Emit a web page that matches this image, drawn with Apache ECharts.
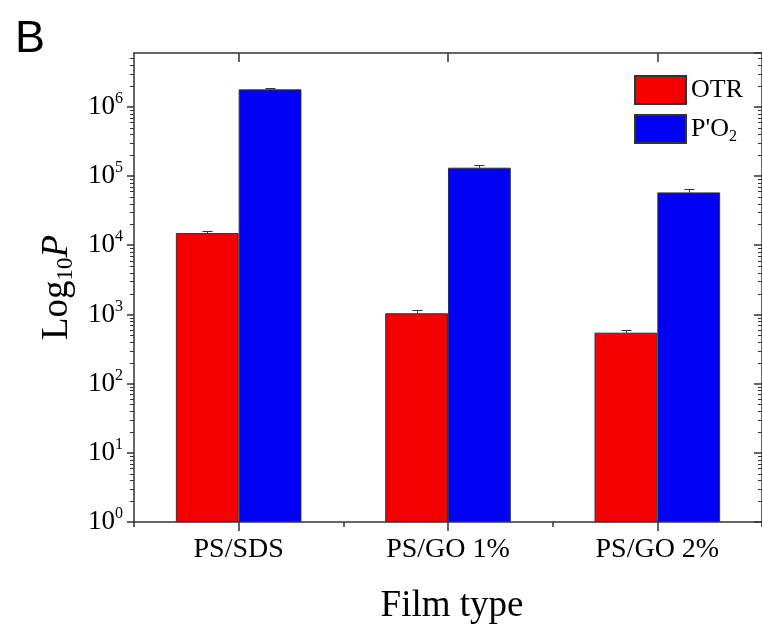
<!DOCTYPE html>
<html><head><meta charset="utf-8">
<script src="https://cdn.jsdelivr.net/npm/echarts@6/dist/echarts.min.js"></script>
<style>html,body{margin:0;padding:0;background:#fff}#c{width:762px;height:633px}</style>
</head><body><div id="c"></div>
<script>
const categories = ['PS/SDS', 'PS/GO 1%', 'PS/GO 2%'];
const seriesNames = ['OTR', "P'O2"];
const otrValues = [15000, 1040, 545];
const otrErrors = [1200, 100, 50];
const po2Values = [1790000, 132000, 58000];
const po2Errors = [100000, 12000, 6500];
const yMin = 1;
const yMax = 6000000;
const decades = [1, 10, 100, 1000, 10000, 100000, 1000000];
const minorMultipliers = [2, 3, 4, 5, 6, 7, 8, 9];

const SERIF = 'Liberation Serif';
const AXIS_COLOR = '#333';

const minorTickData = [];
decades.forEach(d => minorMultipliers.forEach(m => { if (m * d < yMax) minorTickData.push([0, m * d]); }));

function minorTickRender(params, api) {
  const cs = params.coordSys;
  const y = Math.round(api.coord([0, api.value(1)])[1]) + 0.5;
  return { type: 'group', children: [
    { type: 'line', shape: { x1: cs.x, y1: y, x2: cs.x - 4, y2: y }, style: { stroke: AXIS_COLOR, lineWidth: 1 } },
    { type: 'line', shape: { x1: cs.x + cs.width, y1: y, x2: cs.x + cs.width - 4, y2: y }, style: { stroke: AXIS_COLOR, lineWidth: 1 } }
  ]};
}

function errorRender(sign) {
  return function (params, api) {
    const ci = api.value(0), v = api.value(1), e = api.value(2);
    const base = api.coord([ci, v]);
    const top = api.coord([ci, v + e]);
    const band = params.coordSys.width / categories.length;
    const x = Math.round(base[0] + sign * band * 0.15) + 0.5;
    const ty = Math.round(top[1]) + 0.5;
    return { type: 'group', children: [
      { type: 'line', shape: { x1: x, y1: base[1], x2: x, y2: ty }, style: { stroke: '#333', lineWidth: 1 } },
      { type: 'line', shape: { x1: x - 5, y1: ty, x2: x + 5, y2: ty }, style: { stroke: '#333', lineWidth: 1 } }
    ]};
  };
}

const chart = echarts.init(document.getElementById('c'), null, { renderer: 'canvas' });
const axisLineStyle = { show: true, lineStyle: { color: AXIS_COLOR, width: 1.5 } };

chart.setOption({
  animation: false,
  backgroundColor: '#fff',
  title: { text: 'B', left: 10, top: 12, textStyle: { fontFamily: 'Liberation Sans', fontSize: 45, fontWeight: 'normal', color: '#000' } },
  legend: {
    data: seriesNames, orient: 'vertical', left: 634, top: 75, padding: 0,
    itemWidth: 51, itemHeight: 28, itemGap: 9, icon: 'rect',
    textStyle: {
      fontFamily: SERIF, fontSize: 26, color: '#000',
      rich: {
        n: { fontFamily: SERIF, fontSize: 26, color: '#000', lineHeight: 32 },
        s: { fontFamily: SERIF, fontSize: 16, color: '#000', lineHeight: 12, verticalAlign: 'bottom' }
      }
    },
    formatter: name => name === "P'O2" ? "{n|P'O}{s|2}" : '{n|' + name + '}'
  },
  grid: { left: 134, top: 53, right: -4, bottom: 111, containLabel: false },
  xAxis: [
    {
      type: 'category', position: 'bottom', data: categories,
      axisLine: axisLineStyle,
      axisTick: { show: true, alignWithLabel: true, length: 9, lineStyle: { color: AXIS_COLOR, width: 1.5 } },
      axisLabel: { fontFamily: SERIF, fontSize: 28, color: '#000', margin: 14 },
      name: 'Film type', nameLocation: 'middle', nameGap: 66,
      nameTextStyle: { fontFamily: SERIF, fontSize: 37, color: '#000', padding: [0, 0, 0, 8] }
    },
    {
      type: 'category', position: 'top', data: categories,
      axisLine: axisLineStyle,
      axisTick: { show: true, inside: true, alignWithLabel: true, length: 9, lineStyle: { color: AXIS_COLOR, width: 1.5 } },
      axisLabel: { show: false }
    },
    {
      type: 'category', position: 'bottom', data: categories,
      axisLine: { show: false },
      axisTick: { show: true, length: 5, lineStyle: { color: AXIS_COLOR, width: 1.5 } },
      axisLabel: { show: false }
    }
  ],
  yAxis: [
    {
      type: 'log', logBase: 10, min: yMin, max: yMax, interval: 1, position: 'left',
      axisLine: axisLineStyle,
      axisTick: { show: true, length: 7, lineStyle: { color: AXIS_COLOR, width: 1.5 } },
      splitLine: { show: false },
      axisLabel: {
        margin: 11, showMaxLabel: false,
        formatter: function (value) {
          const l = Math.log10(value);
          const e = Math.round(l);
          if (Math.abs(l - e) > 1e-6) return '';
          return '{b|10}{s|' + e + '}';
        },
        rich: {
          b: { fontFamily: SERIF, fontSize: 27, color: '#000', lineHeight: 32 },
          s: { fontFamily: SERIF, fontSize: 16, color: '#000', lineHeight: 14, verticalAlign: 'top' }
        }
      },
      name: '{m|Log}{sub|10}{i|P}', nameLocation: 'middle', nameRotate: 90, nameGap: 55,
      nameTextStyle: {
        rich: {
          m: { fontFamily: SERIF, fontSize: 37, color: '#000', lineHeight: 40 },
          sub: { fontFamily: SERIF, fontSize: 23, color: '#000', lineHeight: 16, verticalAlign: 'bottom' },
          i: { fontFamily: SERIF, fontSize: 37, fontStyle: 'italic', color: '#000', lineHeight: 40 }
        }
      }
    },
    {
      type: 'log', logBase: 10, min: yMin, max: yMax, interval: 1, position: 'right',
      axisLine: axisLineStyle,
      axisTick: { show: true, inside: true, length: 8, lineStyle: { color: AXIS_COLOR, width: 1.5 } },
      splitLine: { show: false },
      axisLabel: { show: false }
    }
  ],
  series: [
    {
      name: seriesNames[0], type: 'bar', data: otrValues, barGap: '0%', barCategoryGap: '40%',
      itemStyle: { color: '#f40000', borderColor: '#333', borderWidth: 1 }
    },
    {
      name: seriesNames[1], type: 'bar', data: po2Values, barGap: '0%', barCategoryGap: '40%',
      itemStyle: { color: '#0000f5', borderColor: '#333', borderWidth: 1 }
    },
    {
      type: 'custom', name: 'otrErr', renderItem: errorRender(-1), silent: true, z: 5,
      encode: { x: 0, y: 1 },
      data: otrValues.map((v, i) => [i, v, otrErrors[i]])
    },
    {
      type: 'custom', name: 'po2Err', renderItem: errorRender(1), silent: true, z: 5,
      encode: { x: 0, y: 1 },
      data: po2Values.map((v, i) => [i, v, po2Errors[i]])
    },
    {
      type: 'custom', name: 'minorTicks', renderItem: minorTickRender, silent: true, z: 6, clip: false,
      encode: { x: 0, y: 1 },
      data: minorTickData
    }
  ]
});
</script>
</body></html>
